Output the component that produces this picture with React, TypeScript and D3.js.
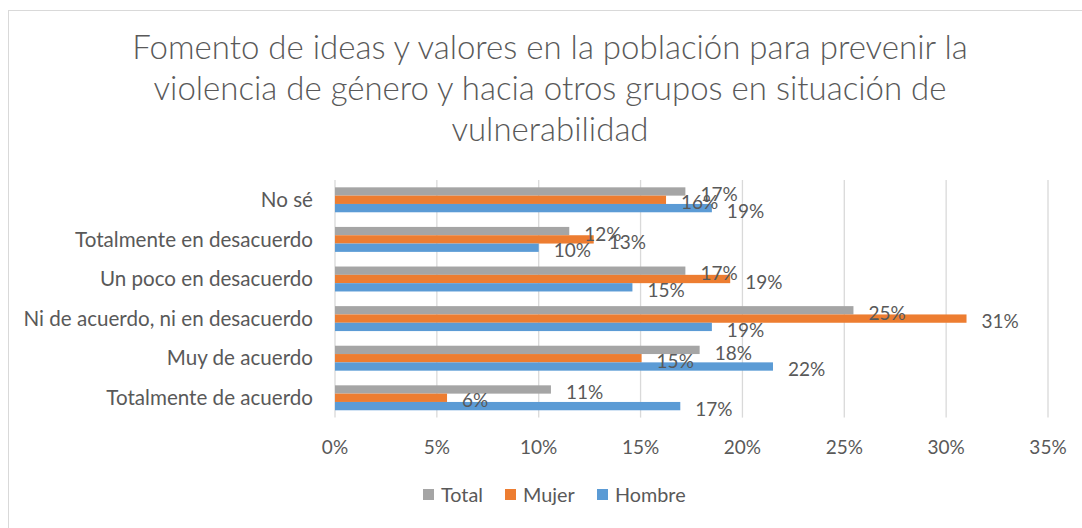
import React from "react";
import * as d3 from "d3";

const categories = [
  "No sé",
  "Totalmente en desacuerdo",
  "Un poco en desacuerdo",
  "Ni de acuerdo, ni en desacuerdo",
  "Muy de acuerdo",
  "Totalmente de acuerdo",
];
const seriesNames = ["Total", "Mujer", "Hombre"];
const totalValues = [17.2, 11.5, 17.2, 25.45, 17.9, 10.6];
const mujerValues = [16.25, 12.7, 19.4, 31.0, 15.05, 5.5];
const hombreValues = [18.5, 10.0, 14.6, 18.5, 21.5, 16.95];
const xTicks = [0, 5, 10, 15, 20, 25, 30, 35];
const titleLines = [
  "Fomento de ideas y valores en la población para prevenir la",
  "violencia de género y hacia otros grupos en situación de",
  "vulnerabilidad",
];

const colors = ["#A5A5A5", "#ED7D31", "#5B9BD5"];
const textColor = "#595959";
const font = "Lato, 'Open Sans', sans-serif";

export default function App() {
  const width = 1082;
  const height = 528;

  const x = d3.scaleLinear().domain([0, 35]).range([335, 1048]);
  const y = d3
    .scaleBand<string>()
    .domain(categories)
    .range([180, 417.6])
    .paddingInner(0.37)
    .paddingOuter(0.185);
  const inner = d3
    .scaleBand<string>()
    .domain(seriesNames)
    .range([0, y.bandwidth()]);

  const allValues = [totalValues, mujerValues, hombreValues];

  const legendX = [423, 505, 597];

  return (
    <div style={{ position: "absolute", left: 0, top: 0 }}>
      <svg width={width} height={height} style={{ display: "block", background: "#fff" }}>
        {/* chart border */}
        <line x1={8.5} y1={10} x2={8.5} y2={height} stroke="#D9D9D9" />
        <line x1={8} y1={10.5} x2={width} y2={10.5} stroke="#D9D9D9" />

        {/* title */}
        {titleLines.map((t, i) => (
          <text
            key={t}
            x={550}
            y={59 + i * 41}
            textAnchor="middle"
            fontFamily={font}
            fontWeight={300}
            fontSize={33}
            fill={textColor}
          >
            {t}
          </text>
        ))}

        {/* gridlines */}
        {xTicks.map((t) => (
          <line
            key={t}
            x1={x(t)}
            x2={x(t)}
            y1={180}
            y2={417.6}
            stroke="#D9D9D9"
            strokeWidth={1.3}
          />
        ))}

        {/* tick labels */}
        {xTicks.map((t) => (
          <text
            key={"t" + t}
            x={x(t)}
            y={447}
            dy="0.35em"
            textAnchor="middle"
            fontFamily={font}
            fontSize={19}
            fill={textColor}
          >
            {t}%
          </text>
        ))}

        {/* category labels */}
        {categories.map((c) => (
          <text
            key={c}
            x={313}
            y={(y(c) ?? 0) + y.bandwidth() / 2}
            dy="0.35em"
            textAnchor="end"
            fontFamily={font}
            fontSize={20.6}
            fill={textColor}
          >
            {c}
          </text>
        ))}

        {/* bars */}
        {categories.map((c, ci) =>
          seriesNames.map((s, si) => (
            <rect
              key={c + s}
              x={x(0)}
              y={(y(c) ?? 0) + (inner(s) ?? 0)}
              width={x(allValues[si][ci]) - x(0)}
              height={inner.bandwidth()}
              fill={colors[si]}
            />
          ))
        )}

        {/* data labels */}
        {categories.map((c, ci) =>
          seriesNames.map((s, si) => (
            <text
              key={"l" + c + s}
              x={x(allValues[si][ci]) + 15}
              y={(y(c) ?? 0) + (inner(s) ?? 0) + inner.bandwidth() / 2 + 3}
              dy="0.35em"
              fontFamily={font}
              fontSize={19}
              fill={textColor}
            >
              {Math.round(allValues[si][ci])}%
            </text>
          ))
        )}

        {/* legend */}
        {seriesNames.map((s, i) => (
          <g key={"lg" + s} transform={`translate(${legendX[i]},489)`}>
            <rect width={11} height={11} fill={colors[i]} />
            <text
              x={18}
              y={6}
              dy="0.35em"
              fontFamily={font}
              fontSize={19.8}
              fill={textColor}
            >
              {s}
            </text>
          </g>
        ))}
      </svg>
    </div>
  );
}
